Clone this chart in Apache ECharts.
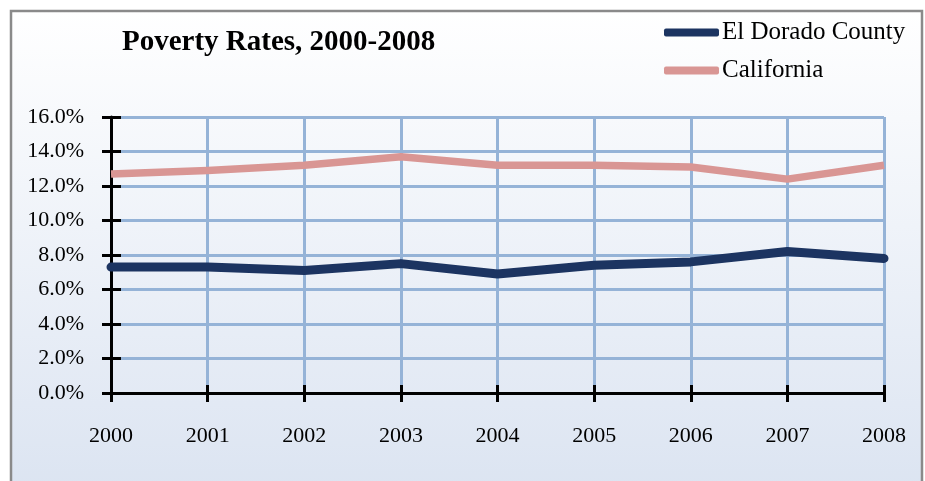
<!DOCTYPE html>
<html>
<head>
<meta charset="utf-8">
<script src="https://cdn.jsdelivr.net/npm/echarts@6/dist/echarts.min.js"></script>
<style>
  html, body { margin: 0; padding: 0; background: #ffffff; }
  #chart { width: 925px; height: 481px; }
</style>
</head>
<body>
<div id="chart"></div>
<script>
// Poverty rates (percent of population), 2000-2008
const years = ['2000', '2001', '2002', '2003', '2004', '2005', '2006', '2007', '2008'];
const elDorado = [7.3, 7.3, 7.1, 7.5, 6.9, 7.4, 7.6, 8.2, 7.8];
const california = [12.7, 12.9, 13.2, 13.7, 13.2, 13.2, 13.1, 12.4, 13.2];
const seriesNames = ['El Dorado County', 'California'];
const yTicks = { min: 0, max: 16, step: 2 };

const FONT = '"Liberation Serif", "DejaVu Serif", serif';
const GRID_BLUE = '#95b3d7';

const chart = echarts.init(document.getElementById('chart'), null, { renderer: 'canvas' });

const valueAxisBase = {
  type: 'value',
  min: yTicks.min,
  max: yTicks.max,
  interval: yTicks.step,
  position: 'left'
};
const catAxisBase = {
  type: 'category',
  data: years,
  boundaryGap: false,
  position: 'bottom'
};

chart.setOption({
  animation: false,
  backgroundColor: '#ffffff',
  graphic: [{
    type: 'rect',
    z: -100,
    silent: true,
    shape: { x: 11, y: 11, width: 911, height: 500 },
    style: {
      fill: new echarts.graphic.LinearGradient(0, 0, 0, 1, [
        { offset: 0, color: '#ffffff' },
        { offset: 1, color: '#dae3f1' }
      ]),
      stroke: '#8a8a8a',
      lineWidth: 2.5
    }
  }],
  title: {
    text: 'Poverty Rates, 2000-2008',
    left: 117,
    top: 23,
    textStyle: { fontFamily: FONT, fontWeight: 'bold', fontSize: 29, color: '#000' }
  },
  legend: {
    orient: 'vertical',
    left: 664,
    top: 20,
    padding: 0,
    itemWidth: 55,
    itemHeight: 8,
    itemGap: 13,
    icon: 'roundRect',
    data: seriesNames,
    textStyle: { fontFamily: FONT, fontSize: 25, color: '#000', padding: [0, 0, 0, -2] }
  },
  grid: { left: 111, right: 41, top: 117, bottom: 88 },
  xAxis: [
    Object.assign({}, catAxisBase, {
      axisLine: { lineStyle: { color: '#000', width: 3 } },
      axisTick: { show: true, length: 9, lineStyle: { color: '#000', width: 3 } },
      axisLabel: { margin: 32, fontFamily: FONT, fontSize: 22, color: '#000' },
      splitLine: { show: true, lineStyle: { color: GRID_BLUE, width: 3 } }
    }),
    Object.assign({}, catAxisBase, {
      axisLine: { show: false },
      axisTick: { show: true, inside: true, length: 8, lineStyle: { color: '#000', width: 3 } },
      axisLabel: { show: false },
      splitLine: { show: false }
    })
  ],
  yAxis: [
    Object.assign({}, valueAxisBase, {
      axisLine: { show: true, lineStyle: { color: '#000', width: 3 } },
      axisTick: { show: true, length: 9, lineStyle: { color: '#000', width: 3 } },
      axisLabel: {
        margin: 27, fontFamily: FONT, fontSize: 22, color: '#000',
        formatter: v => v.toFixed(1) + '%'
      },
      splitLine: { show: true, lineStyle: { color: GRID_BLUE, width: 3 } }
    }),
    Object.assign({}, valueAxisBase, {
      axisLine: { show: false },
      axisTick: { show: true, inside: true, length: 10, lineStyle: { color: '#000', width: 3 } },
      axisLabel: { show: false },
      splitLine: { show: false }
    })
  ],
  series: [
    {
      name: seriesNames[0],
      type: 'line',
      data: elDorado,
      xAxisIndex: 0,
      yAxisIndex: 0,
      symbol: 'none',
      color: '#1c3461',
      lineStyle: { width: 9, color: '#1c3461', cap: 'round', join: 'round' },
      z: 4
    },
    {
      name: seriesNames[1],
      type: 'line',
      data: california,
      xAxisIndex: 0,
      yAxisIndex: 0,
      symbol: 'none',
      color: '#d99694',
      lineStyle: { width: 7.5, color: '#d99694', cap: 'butt', join: 'round' },
      z: 3
    }
  ]
});
</script>
</body>
</html>
